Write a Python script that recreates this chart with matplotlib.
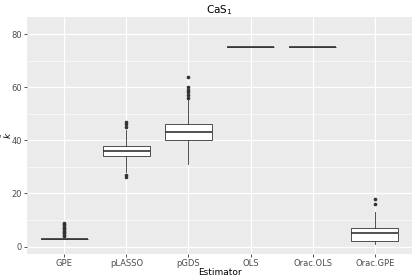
import matplotlib
matplotlib.use("Agg")
import matplotlib.pyplot as plt
from matplotlib.ticker import MultipleLocator

# box summaries
estimators = ["GPE", "pLASSO", "pGDS", "OLS", "Orac.OLS", "Orac.GPE"]
q1 = [3, 34, 40, 75, 75, 2]
med = [3, 36, 43, 75, 75, 5]
q3 = [3, 38, 46, 75, 75, 7]
whislo = [3, 28, 31, 75, 75, 1]
whishi = [3, 44, 55, 75, 75, 13]
fliers = [
    [4, 5, 6, 7, 8, 9, 4.5, 5.5, 6.5, 7.5, 8.5],
    [26, 27, 45, 46, 47],
    [56, 57, 58, 59, 60, 64],
    [],
    [],
    [16, 18],
]

stats = []
for i, name in enumerate(estimators):
    stats.append(dict(label=name, q1=q1[i], med=med[i], q3=q3[i],
                      whislo=whislo[i], whishi=whishi[i], fliers=fliers[i]))

fig = plt.figure(figsize=(4.15, 2.77), dpi=100)
ax = fig.add_axes([27 / 415, 1 - 254 / 277, 385 / 415, 237 / 277])
ax.set_facecolor("#EBEBEB")

edge = "#333333"
ax.bxp(stats, positions=range(1, 7), widths=0.75, patch_artist=True,
       showcaps=False,
       boxprops=dict(facecolor="white", edgecolor=edge, linewidth=0.6),
       medianprops=dict(color=edge, linewidth=1.2),
       whiskerprops=dict(color=edge, linewidth=0.6),
       flierprops=dict(marker="o", markersize=1.6, markerfacecolor=edge,
                       markeredgecolor=edge, linestyle="none"),
       zorder=3)

ax.set_xlim(0.4, 6.6)
ax.set_ylim(-2.8, 86.4)
ax.yaxis.set_major_locator(MultipleLocator(20))
ax.yaxis.set_minor_locator(MultipleLocator(10))
ax.grid(True, which="major", color="white", linewidth=0.9, zorder=0)
ax.grid(True, which="minor", axis="y", color="white", linewidth=0.45, zorder=0)
ax.set_axisbelow(True)
for s in ax.spines.values():
    s.set_visible(False)

ax.tick_params(axis="both", which="major", length=2.2, width=0.6,
               color="#333333", labelsize=6, labelcolor="#4D4D4D", pad=1.5)
ax.tick_params(axis="y", which="minor", length=0)

ax.set_xlabel("Estimator", fontsize=6.5)
ax.set_ylabel(r"$\hat{k}$", fontsize=6.5)
ax.xaxis.set_label_coords(0.5, -0.058)
ax.yaxis.set_label_coords(-0.034, 0.5)
ax.set_title(r"CaS$_1$", fontsize=7.5, pad=3)

fig.savefig("out.png", dpi=100)
